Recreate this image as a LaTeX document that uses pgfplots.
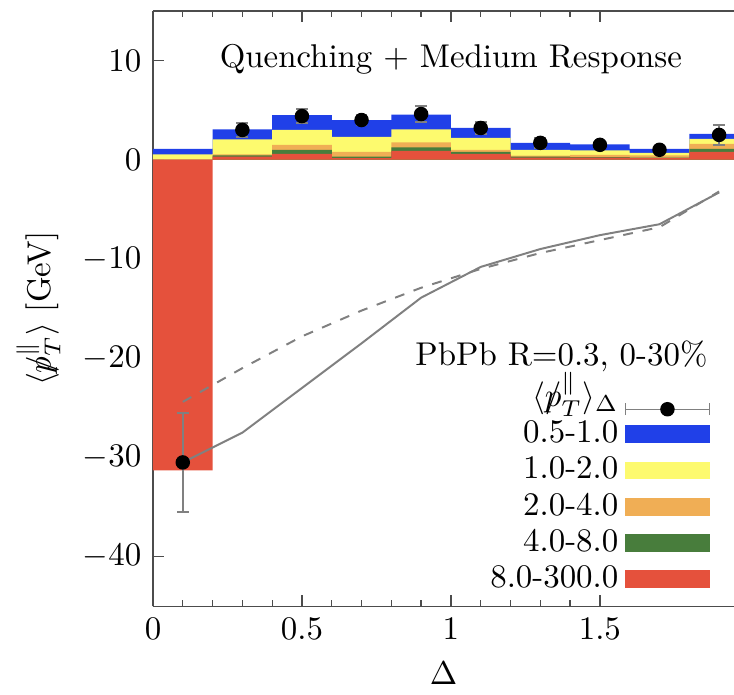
\documentclass[border=0pt]{standalone}
\usepackage{amsmath}
\usepackage{pgfplots}
\pgfplotsset{compat=1.18}
\usepackage{pgfplotstable}
\definecolor{cblue}{RGB}{32,64,232}
\definecolor{cyellow}{RGB}{253,250,110}
\definecolor{corange}{RGB}{240,174,85}
\definecolor{cgreen}{RGB}{72,125,60}
\definecolor{cred}{RGB}{229,81,60}
\newcommand{\pslash}{\mbox{\ooalign{$\hfil/\hfil$\cr$p$\cr}}}

% cumulative tops of the stacked layers (bin left edges)
\pgfplotstableread{
x   red   green orange yellow blue
0.0 -31.3 0.0   0.05   0.55   1.10
0.2 0.30  0.45  0.55   2.05   3.05
0.4 0.60  1.00  1.50   3.00   4.50
0.6 0.15  0.30  0.80   2.30   4.00
0.8 0.90  1.25  1.75   3.05   4.55
1.0 0.60  0.80  1.00   2.20   3.20
1.2 0.20  0.30  0.40   1.00   1.70
1.4 0.20  0.25  0.50   0.95   1.55
1.6 0.15  0.20  0.45   0.70   1.10
1.8 0.80  1.10  1.60   2.10   2.60
2.0 0.80  1.10  1.60   2.10   2.60
}\bars

\pgfplotstableread{
x   y     err
0.1 -30.5 5.0
0.3 3.0   0.7
0.5 4.4   0.7
0.7 4.0   0.5
0.9 4.6   0.8
1.1 3.2   0.6
1.3 1.7   0.5
1.5 1.5   0.3
1.7 1.0   0.2
1.9 2.5   1.0
}\pts

\pgfplotstableread{
x   solid  dashed
0.1 -30.5  -24.4
0.3 -27.5  -21.0
0.5 -23.0  -17.8
0.7 -18.5  -15.2
0.9 -13.9  -12.9
1.1 -10.8  -11.0
1.3 -9.0   -9.4
1.5 -7.6   -8.1
1.7 -6.5   -6.8
1.9 -3.3   -3.2
}\curves

\begin{document}
\begin{tikzpicture}
\begin{axis}[
  scale only axis, width=176.6pt, height=181pt,
  xmin=0, xmax=1.95, ymin=-45, ymax=15,
  axis x line*=box, axis y line*=left,
  axis line style={-, black!70, line width=0.5pt},
  xtick={0,0.5,1,1.5}, minor x tick num=4,
  ytick={-40,-30,...,10},
  tick align=inside,
  major tick length=3.5pt, minor tick length=2pt,
  tick style={black!70, line width=0.4pt},
  xlabel={$\Delta$},
  ylabel={$\langle\pslash_T^{\parallel}\rangle$ [GeV]},
  legend style={at={(axis cs:1.905,-23.5)}, anchor=north east, draw=none, fill=none, row sep=-1.2pt},
  legend cell align=right,
  legend plot pos=right,
]
\addplot[forget plot, draw=none, fill=cblue, const plot] table[x=x, y=blue] {\bars} \closedcycle;
\addplot[forget plot, draw=none, fill=cyellow, const plot] table[x=x, y=yellow] {\bars} \closedcycle;
\addplot[forget plot, draw=none, fill=corange, const plot] table[x=x, y=orange] {\bars} \closedcycle;
\addplot[forget plot, draw=none, fill=cgreen, const plot] table[x=x, y=green] {\bars} \closedcycle;
\addplot[forget plot, draw=none, fill=cred, const plot] table[x=x, y=red] {\bars} \closedcycle;

\addplot[forget plot, gray, line width=0.6pt] table[x=x, y=solid] {\curves};
\addplot[forget plot, gray, line width=0.6pt, dash pattern=on 3pt off 3pt] table[x=x, y=dashed] {\curves};

\addplot[forget plot, only marks, mark=*, mark size=2pt, black,
  error bars/.cd, y dir=both, y explicit,
  error bar style={gray, line width=0.5pt},
  error mark options={rotate=90, mark size=1.8pt, gray, line width=0.5pt}]
  table[x=x, y=y, y error=err] {\pts};

\node[anchor=east] at (axis cs:1.9,-19.8) {PbPb R=0.3, 0-30\%};
\node at (axis cs:1.0,10.1) {Quenching + Medium Response};

\addlegendimage{legend image code/.code={
  \draw[gray, line width=0.4pt] (0pt,0pt) -- (25.5pt,0pt);
  \draw[gray, line width=0.4pt] (0pt,-1.8pt) -- (0pt,1.8pt);
  \draw[gray, line width=0.4pt] (25.5pt,-1.8pt) -- (25.5pt,1.8pt);
  \fill[black] (12.75pt,0pt) circle (2pt);}}
\addlegendentry{\smash[t]{$\langle\pslash_T^{\parallel}\rangle_\Delta$}}
\addlegendimage{legend image code/.code={\fill[cblue] (0pt,-2.5pt) rectangle (25.5pt,2.5pt);}}
\addlegendentry{0.5-1.0}
\addlegendimage{legend image code/.code={\fill[cyellow] (0pt,-2.5pt) rectangle (25.5pt,2.5pt);}}
\addlegendentry{1.0-2.0}
\addlegendimage{legend image code/.code={\fill[corange] (0pt,-2.5pt) rectangle (25.5pt,2.5pt);}}
\addlegendentry{2.0-4.0}
\addlegendimage{legend image code/.code={\fill[cgreen] (0pt,-2.5pt) rectangle (25.5pt,2.5pt);}}
\addlegendentry{4.0-8.0}
\addlegendimage{legend image code/.code={\fill[cred] (0pt,-2.5pt) rectangle (25.5pt,2.5pt);}}
\addlegendentry{8.0-300.0}
\end{axis}
\pgfresetboundingbox
\path[use as bounding box] ([xshift=-46.5pt,yshift=-26.7pt]current axis.south west) rectangle ([yshift=3.3pt]current axis.north east);
\end{tikzpicture}
\end{document}
